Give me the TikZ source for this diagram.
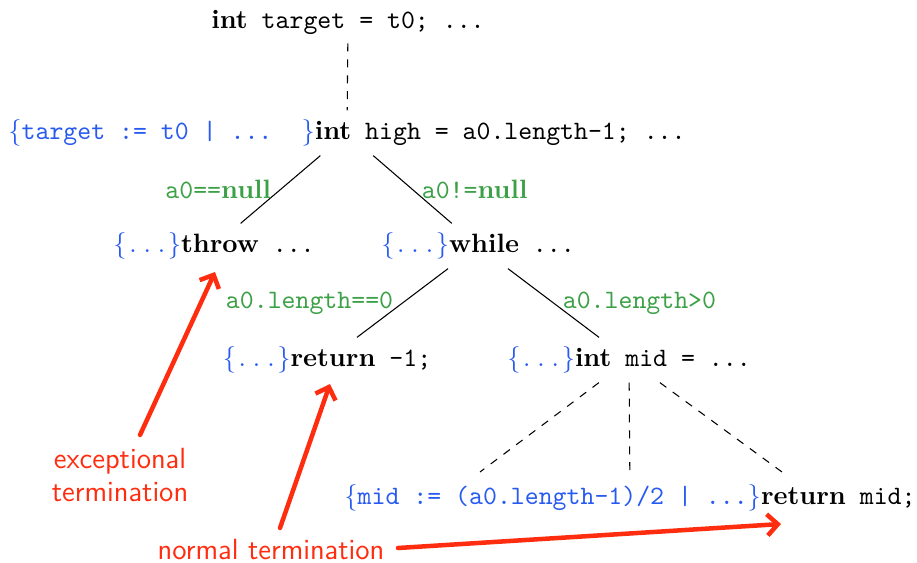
\documentclass[tikz,border=0pt]{standalone}
\usetikzlibrary{arrows.meta}
\definecolor{cblue}{RGB}{40,90,240}
\definecolor{cgreen}{RGB}{60,160,70}
\definecolor{cred}{RGB}{255,45,15}
\newcommand{\kw}[1]{\textbf{#1}}
\newcommand{\cd}[1]{\texttt{#1}}
\newcommand{\cond}[1]{\textcolor{cblue}{#1}}
\newcommand{\anyc}{\cond{$\{$\kern1pt.\kern2.6pt.\kern2.6pt.\kern1pt$\}$}}
\begin{document}
\begin{tikzpicture}[x=0.3769pt,y=-0.3769pt,
  stmt/.style={inner sep=3.33pt},
  lab/.style={text=cgreen, inner sep=3.33pt},
  annot/.style={text=cred, font=\sffamily\fontsize{11}{12.8}\selectfont, align=center},
  redarrow/.style={draw=cred, line width=1.7pt, line cap=round, line join=round, -{Straight Barb[length=4pt,width=8pt]}}]
\useasboundingbox (0,0) rectangle (917,562);
\node[stmt] (n0) at (348,22) {\kw{int}\cd{\ target = t0; ...}};
\node[stmt] (n1) at (347,133) {\cond{$\{$\cd{target := t0 | ...}\hspace{11pt}$\}$}\kw{int}\cd{\ high = a0.length-1; ...}};
\node[stmt] (n2) at (214,246) {\anyc\kw{throw}\cd{\ ...}};
\node[stmt] (n3) at (478,246) {\anyc\kw{while}\cd{\ ...}};
\node[stmt] (n4) at (327,360) {\anyc\kw{return}\cd{\ -1;}};
\node[stmt] (n5) at (629,360) {\anyc\kw{int}\cd{\ mid = ...}};
\node[stmt] (n6) at (630,498) {\cond{$\{$\cd{mid := (a0.length-1)/2 | ...}$\}$}\kw{return}\cd{\ mid;}};
\draw[dashed] (n0) -- (n1);
\draw (n1) -- node[lab,left]{\cd{a0==}\textbf{null}} (n2);
\draw (n1) -- node[lab,right]{\cd{a0!=}\textbf{null}} (n3);
\draw (n3) -- node[lab,left]{\cd{a0.length==0}} (n4);
\draw (n3) -- node[lab,right]{\cd{a0.length>0}} (n5);
\coordinate (f1) at (480,472);
\coordinate (f2) at (782,472);
\draw[dashed] (n5) -- (f1);
\draw[dashed] (n5) -- (n6);
\draw[dashed] (n5) -- (f2);
\node[annot] (ex) at (120,475) {exceptional\\termination};
\node[annot] (nt) at (271,550) {normal termination};
\coordinate (e1) at (140,435);
\coordinate (t1) at (215,272);
\coordinate (e2) at (280,528);
\coordinate (t2) at (330,384);
\coordinate (e3) at (398,548);
\coordinate (t3) at (781,524);
\draw[redarrow] (e1) -- (t1);
\draw[redarrow] (e2) -- (t2);
\draw[redarrow] (e3) -- (t3);
\end{tikzpicture}
\end{document}
